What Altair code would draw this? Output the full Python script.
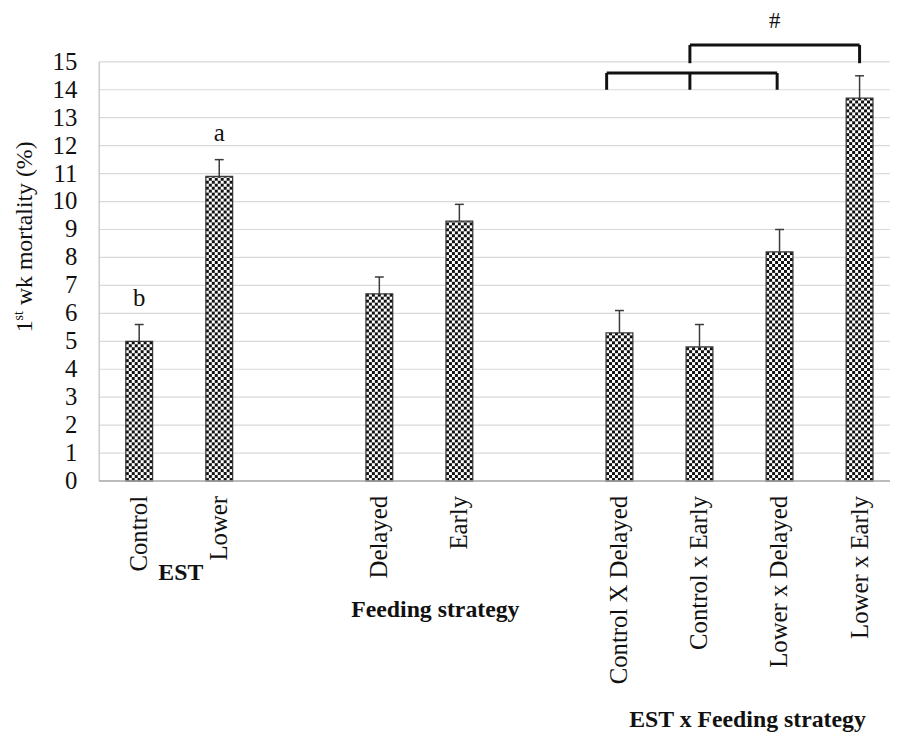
import altair as alt
import pandas as pd
import numpy as np

# ---------------- data ----------------
categories = ["Control", "Lower", "Delayed", "Early",
              "Control X Delayed", "Control x Early", "Lower x Delayed", "Lower x Early"]
slots = [0, 1, 3, 4, 6, 7, 8, 9]          # slot index on the x axis (gaps between groups)
means = [5.0, 10.9, 6.7, 9.3, 5.3, 4.8, 8.2, 13.7]
errors = [0.6, 0.6, 0.6, 0.6, 0.8, 0.8, 0.8, 0.8]
letters = ["b", "a", "", "", "", "", "", ""]
groups = ["EST", "Feeding strategy", "EST x Feeding strategy"]
group_centers = [0.52, 3.7, 7.6]
y_ticks = list(range(16))
title_parts = ["1", "st", "wk mortality (%)"]
# significance brackets: tick x positions (slot units), bar level, tick bottom
bracket_ticks = [[5.84, 6.88, 7.97], [6.88, 9.0]]
bracket_levels = [14.6, 15.6]
bracket_bottoms = [14.0, 14.95]
bracket_label = "#"

# ---------------- layout constants ----------------
W, H = 798, 423
X_DOM = [-0.5, 9.38]
Y_DOM = [0, 15]
px_x = W / (X_DOM[1] - X_DOM[0])
px_y = H / (Y_DOM[1] - Y_DOM[0])
BAR_PX = 27
CELL_PX = 3
half = BAR_PX / 2 / px_x
cell_x = CELL_PX / px_x
cell_y = CELL_PX / px_y
FONT = "Liberation Serif"
FS = 25
INK = "#111"

bars = pd.DataFrame({
    "cat": categories, "pos": slots, "mean": means,
    "top": [m + e for m, e in zip(means, errors)], "letter": letters,
})
bars["x0"] = bars["pos"] - half
bars["x1"] = bars["pos"] + half
bars["cap0"] = bars["pos"] - 4.5 / px_x
bars["cap1"] = bars["pos"] + 4.5 / px_x
bars["ltr_y"] = bars["top"] + 0.95

# checkerboard cells built from the bar table
cells = []
ncols = int(round(BAR_PX / CELL_PX))
for p, m in zip(slots, means):
    nrows = int(np.ceil(m / cell_y))
    for r in range(nrows):
        for c in range(ncols):
            if (r + c) % 2 == 0:
                cells.append({
                    "cx0": p - half + c * cell_x, "cx1": p - half + (c + 1) * cell_x,
                    "cy0": r * cell_y, "cy1": min((r + 1) * cell_y, m),
                })
cells = pd.DataFrame(cells)

xs = alt.Scale(domain=X_DOM, nice=False, zero=False)
ys = alt.Scale(domain=Y_DOM, nice=False, zero=True)


def X(f):
    return alt.X(f, scale=xs, axis=None)


def Y(f):
    return alt.Y(f, scale=ys, axis=None)


# ---------------- hand-drawn axes ----------------
ticks_df = pd.DataFrame({"v": y_ticks, "lbl": [str(v) for v in y_ticks],
                         "xa": X_DOM[0], "xb": X_DOM[1]})
grid = alt.Chart(ticks_df[ticks_df["v"] > 0]).mark_rule(color="#d9d9d9", strokeWidth=1.2).encode(
    x=X("xa:Q"), x2="xb:Q", y=Y("v:Q"))
tick_lbl = alt.Chart(ticks_df).mark_text(font=FONT, fontSize=FS, color=INK, align="right",
                                         baseline="middle").encode(
    x=alt.value(-22), y=Y("v:Q"), text="lbl:N")
dom_df = pd.DataFrame({"x": [X_DOM[0]], "xe": [X_DOM[1]], "y0": [Y_DOM[0]], "y1": [Y_DOM[1]]})
y_dom = alt.Chart(dom_df).mark_rule(color="#bfbfbf", strokeWidth=1.2).encode(
    x=X("x:Q"), y=Y("y0:Q"), y2="y1:Q")
x_dom = alt.Chart(dom_df).mark_rule(color="#a6a6a6", strokeWidth=1.3).encode(
    x=X("x:Q"), x2="xe:Q", y=Y("y0:Q"))

TFS = 24
title_df = pd.DataFrame({"t": title_parts, "ty": [273, 261, 245.5],
                         "tx": [-68, -77, -68], "fs": [TFS, 14, TFS]})
title_txt = alt.Chart(title_df).mark_text(font=FONT, color=INK, angle=270, align="left",
                                          baseline="alphabetic").encode(
    x=alt.X("tx:Q", scale=None, axis=None), y=alt.Y("ty:Q", scale=None, axis=None),
    size=alt.Size("fs:Q", scale=None, legend=None), text="t:N")

# ---------------- bars ----------------
base = alt.Chart(bars)
bar_bg = base.mark_rect(fill="white", stroke=None).encode(
    x=X("x0:Q"), x2="x1:Q", y=Y("mean:Q"), y2=alt.Y2(datum=0))
cell_layer = alt.Chart(cells).mark_rect(fill=INK, stroke=None).encode(
    x=X("cx0:Q"), x2="cx1:Q", y=Y("cy0:Q"), y2="cy1:Q")
bar_outline = base.mark_rect(fill=None, stroke="#3a3a3a", strokeWidth=1.3).encode(
    x=X("x0:Q"), x2="x1:Q", y=Y("mean:Q"), y2=alt.Y2(datum=0))

err_rule = base.mark_rule(color="#3a3a3a", strokeWidth=1.5).encode(
    x=X("pos:Q"), y=Y("mean:Q"), y2="top:Q")
err_cap = base.mark_rule(color="#3a3a3a", strokeWidth=1.5).encode(
    x=X("cap0:Q"), x2="cap1:Q", y=Y("top:Q"))

letter_text = base.mark_text(font=FONT, fontSize=FS, color=INK, baseline="middle").encode(
    x=X("pos:Q"), y=Y("ltr_y:Q"), text="letter:N")

cat_text = base.mark_text(font=FONT, fontSize=FS, color=INK, angle=270,
                          align="right", baseline="middle").encode(
    x=X("pos:Q"), y=alt.value(H + 15), text="cat:N")

grp = pd.DataFrame({"g": groups, "gx": group_centers, "gy": [516, 553, 664]})
grp_text = alt.Chart(grp).mark_text(font=FONT, fontSize=FS - 1, fontWeight="bold", color=INK,
                                    baseline="middle").encode(
    x=X("gx:Q"), y=alt.Y("gy:Q", scale=None, axis=None), text="g:N")

# ---------------- brackets ----------------
hseg, vseg = [], []
for ticks, lvl, bot in zip(bracket_ticks, bracket_levels, bracket_bottoms):
    hseg.append({"a": min(ticks), "b": max(ticks), "y": lvl})
    for t in ticks:
        vseg.append({"x": t, "y0": bot, "y1": lvl})
hseg = pd.DataFrame(hseg)
vseg = pd.DataFrame(vseg)
br_h = alt.Chart(hseg).mark_rule(color=INK, strokeWidth=3).encode(
    x=X("a:Q"), x2="b:Q", y=Y("y:Q"))
br_v = alt.Chart(vseg).mark_rule(color=INK, strokeWidth=3).encode(
    x=X("x:Q"), y=Y("y0:Q"), y2="y1:Q")
hash_df = pd.DataFrame({"t": [bracket_label],
                        "x": [(bracket_ticks[1][0] + bracket_ticks[1][-1]) / 2],
                        "y": [16.45]})
hash_text = alt.Chart(hash_df).mark_text(font=FONT, fontSize=FS - 2, color=INK,
                                         baseline="middle").encode(
    x=X("x:Q"), y=Y("y:Q"), text="t:N")

chart = alt.layer(
    grid, y_dom, bar_bg, cell_layer, bar_outline, err_rule, err_cap, x_dom,
    tick_lbl, title_txt, letter_text, cat_text, grp_text, br_h, br_v, hash_text,
).properties(
    width=W, height=H, autosize=alt.AutoSizeParams(type="none"), background="white",
    padding={"left": 92, "top": 51, "right": 0, "bottom": 255},
).configure_view(stroke=None)

chart.save("out.html", embed_options={"renderer": "svg", "actions": False})
